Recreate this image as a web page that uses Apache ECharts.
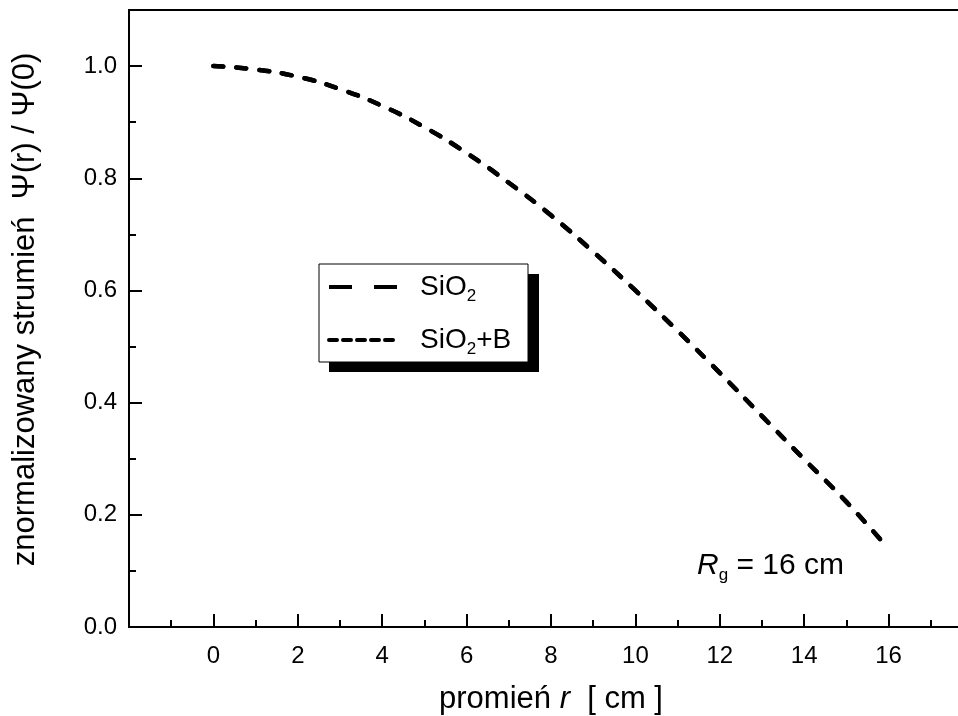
<!DOCTYPE html>
<html>
<head>
<meta charset="utf-8">
<script src="https://cdn.jsdelivr.net/npm/echarts@6/dist/echarts.min.js"></script>
<style>
html, body { margin: 0; padding: 0; background: #fff; }
#chart { width: 958px; height: 716px; }
</style>
</head>
<body>
<div id="chart"></div>
<script>
// promień r [cm]
const radius = [0, 1, 2, 3, 4, 5, 6, 7, 8, 9, 10, 11, 12, 13, 14, 15, 15.9]
// normalized flux
const fluxSiO2 = [1.0, 0.994, 0.981, 0.959, 0.929, 0.891, 0.845, 0.792, 0.734, 0.669, 0.600, 0.528, 0.453, 0.376, 0.299, 0.223, 0.148]
const fluxSiO2B = [1.0, 0.994, 0.981, 0.959, 0.929, 0.891, 0.845, 0.792, 0.734, 0.669, 0.600, 0.528, 0.453, 0.376, 0.299, 0.223, 0.148]
const xTicks = [0, 2, 4, 6, 8, 10, 12, 14, 16]
const yTicks = [0.0, 0.2, 0.4, 0.6, 0.8, 1.0]

const font = 'Liberation Sans, Arial, sans-serif'
const main = { fontSize: 28, fontFamily: font, color: '#000', verticalAlign: 'middle', lineHeight: 36 }
const sub = { fontSize: 17, fontFamily: font, color: '#000', verticalAlign: 'bottom', lineHeight: 36 }

function pairs(xs, ys) {
  return xs.map((x, i) => [x, ys[i]])
}

const chart = echarts.init(document.getElementById('chart'))
chart.setOption({
  animation: false,
  backgroundColor: '#fff',
  grid: {
    left: 129, top: 10, height: 617, width: 844,
    outerBoundsMode: 'none', containLabel: false,
    show: true, borderColor: '#000', borderWidth: 2, backgroundColor: 'transparent'
  },
  xAxis: {
    type: 'value', min: -2, max: 18, interval: 2,
    axisLine: { onZero: false, lineStyle: { color: '#000', width: 2 } },
    axisTick: { inside: true, length: 13, lineStyle: { color: '#000', width: 2 } },
    minorTick: { show: true, splitNumber: 2, length: 7, lineStyle: { color: '#000', width: 2 } },
    splitLine: { show: false },
    axisLabel: {
      color: '#000', fontSize: 24, fontFamily: font, margin: 17,
      formatter: v => xTicks.includes(v) ? String(v) : ''
    },
    name: '{a|promień }{i|r}{a|  [ cm ]}',
    nameLocation: 'middle', nameGap: 57,
    nameTextStyle: {
      rich: {
        a: { fontSize: 31, fontFamily: font, color: '#000' },
        i: { fontSize: 31, fontFamily: font, color: '#000', fontStyle: 'italic' }
      }
    }
  },
  yAxis: {
    type: 'value', min: 0, max: 1.1, interval: 0.2,
    axisLine: { onZero: false, lineStyle: { color: '#000', width: 2 } },
    axisTick: { inside: true, length: 13, lineStyle: { color: '#000', width: 2 } },
    minorTick: { show: true, splitNumber: 2, length: 7, lineStyle: { color: '#000', width: 2 } },
    splitLine: { show: false },
    axisLabel: {
      color: '#000', fontSize: 24, fontFamily: font, margin: 12,
      formatter: v => yTicks.some(t => Math.abs(t - v) < 1e-6) ? v.toFixed(1) : ''
    },
    name: 'znormalizowany strumień  Ψ(r) / Ψ(0)',
    nameLocation: 'middle', nameGap: 88, nameRotate: 90,
    nameTextStyle: { color: '#000', fontSize: 31, fontFamily: font, padding: [0, 0, 0, 18] }
  },
  legend: {
    orient: 'vertical', left: 327, top: 273, z: 10, padding: 0,
    itemWidth: 68, itemHeight: 14, itemGap: 21,
    itemStyle: { opacity: 0 },
    data: [
      { name: 'SiO2', lineStyle: { type: [23, 22], width: 4, cap: 'butt' } },
      { name: 'SiO2+B', lineStyle: { type: [8, 6], width: 4, cap: 'round' } }
    ],
    formatter: name => name === 'SiO2' ? '{m|SiO}{s|2}' : '{m|SiO}{s|2}{m|+B}',
    textStyle: { color: '#000', padding: [0, 0, 0, 18], rich: { m: main, s: sub } }
  },
  graphic: [
    { type: 'rect', z: 5, shape: { x: 329, y: 274, width: 210, height: 98 }, style: { fill: '#000' } },
    { type: 'rect', z: 6, shape: { x: 319, y: 264, width: 209, height: 98 }, style: { fill: '#fff', stroke: '#000', lineWidth: 1 } },
    {
      type: 'text', z: 6, left: 697, top: 551,
      style: {
        text: '{i|R}{s|g}{m| = 16 cm}', fill: '#000',
        rich: {
          i: Object.assign({}, main, { fontSize: 30, fontStyle: 'italic' }),
          s: sub,
          m: Object.assign({}, main, { fontSize: 30 })
        }
      }
    }
  ],
  series: [
    {
      name: 'SiO2', type: 'line', symbol: 'none', smooth: true,
      data: pairs(radius, fluxSiO2),
      lineStyle: { color: '#000', width: 4.5, type: [10, 13], cap: 'round' }
    },
    {
      name: 'SiO2+B', type: 'line', symbol: 'none', smooth: true,
      data: pairs(radius, fluxSiO2B),
      lineStyle: { color: '#000', width: 4.5, type: [10, 13], cap: 'round' }
    }
  ]
})
</script>
</body>
</html>
